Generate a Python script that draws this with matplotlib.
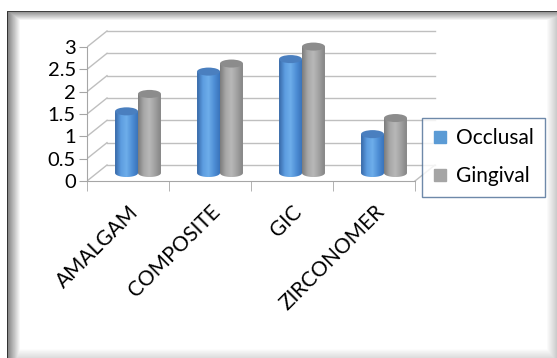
import numpy as np
import matplotlib
matplotlib.use('Agg')
import matplotlib.pyplot as plt
from matplotlib.patches import Ellipse, PathPatch
from matplotlib.path import Path
from matplotlib.lines import Line2D
from matplotlib.colors import LinearSegmentedColormap

plt.rcParams['font.family'] = ['Lato', 'DejaVu Sans']

categories = ['AMALGAM', 'COMPOSITE', 'GIC', 'ZIRCONOMER']
occlusal = [1.38, 2.27, 2.55, 0.87]
gingival = [1.77, 2.45, 2.83, 1.23]
yticks = [0, 0.5, 1, 1.5, 2, 2.5, 3]

W, H = 557, 358
fig = plt.figure(figsize=(W / 100, H / 100), dpi=100)

# frame with inner shadow
bg = fig.add_axes([0, 0, 1, 1], zorder=-10)
xx = np.arange(W)[None, :].repeat(H, 0)
yy = np.arange(H)[:, None].repeat(W, 1)
inside = (xx >= 7) & (yy >= 11)
shade = np.ones((H, W))
shade = np.minimum(shade, np.where(xx >= 7, 0.5 + 0.5 * np.clip((xx - 7) / 13, 0, 1), 1))
shade = np.minimum(shade, np.where(yy >= 11, 0.55 + 0.45 * np.clip((yy - 11) / 9, 0, 1), 1))
shade = np.minimum(shade, 1 - 0.2 * np.clip((xx - 546) / 10, 0, 1))
shade = np.minimum(shade, 1 - 0.15 * np.clip((yy - 348) / 10, 0, 1))
img = np.where(inside, shade, 1.0)
img[11:, 7] = 0.2
img[11, 7:] = 0.25
bg.imshow(img, cmap='gray', vmin=0, vmax=1, aspect='auto', interpolation='nearest')
bg.axis('off')

# plot area, scaled so 1 category = 82 px and 1 unit = 44.67 px
x0p, y0p, sx, sy = 87, 181, 82.0, 44.67
xlim = (0, 4.6)
ylim = (-0.3, 3.5)
left = x0p / W
bottom = (H - (y0p + (-ylim[0]) * sy)) / H
ax = fig.add_axes([left, bottom, (xlim[1] - xlim[0]) * sx / W, (ylim[1] - ylim[0]) * sy / H])
ax.set_xlim(*xlim)
ax.set_ylim(*ylim)

dx, dy = 20 / sx, 16 / sy
n = len(categories)
grid_c = '#bfbfbf'
for v in yticks:
    ax.plot([0, dx], [v, v + dy], color=grid_c, lw=1, zorder=1)
    ax.plot([dx, n + dx], [v + dy, v + dy], color=grid_c, lw=1, zorder=1)
ax.plot([n, n + dx], [0, dy], color=grid_c, lw=1, zorder=1)

for s in ['top', 'right']:
    ax.spines[s].set_visible(False)
ax.spines['left'].set_bounds(0, 3)
ax.spines['bottom'].set_bounds(0, n)
ax.spines['bottom'].set_position(('data', 0))
for s in ['left', 'bottom']:
    ax.spines[s].set_color('#a6a6a6')

ax.set_yticks(yticks)
ax.set_yticklabels(['0', '0.5', '1', '1.5', '2', '2.5', '3'], fontsize=14.5)
ax.tick_params(axis='y', length=6, color='#a6a6a6', pad=2)
ax.set_xticks(np.arange(n + 1), minor=True)
ax.set_xticks(np.arange(n) + 0.5)
ax.set_xticklabels(categories, rotation=45, ha='right', va='top',
                   rotation_mode='anchor', fontsize=15)
ax.tick_params(axis='x', which='major', length=0, pad=15)
ax.tick_params(axis='x', which='minor', length=7, color='#a6a6a6')

blue = LinearSegmentedColormap.from_list('b', ['#3769a8', '#5c9ce0', '#6eaeea', '#4f8fd6', '#3a74bb'])
gray = LinearSegmentedColormap.from_list('g', ['#7c7c7c', '#a8a8a8', '#b8b8b8', '#a0a0a0', '#858585'])

bw = 0.28
xc = np.arange(n) + 0.5 + dx / 2
base = dy / 2
eh = 0.18


def cylinders(xs, vals, cmap, top, label):
    bars = ax.bar(xs, vals, bw, bottom=base, color=cmap(0.5), alpha=0, label=label)
    for b in bars:
        bx, by, w, h = b.get_x(), b.get_y(), b.get_width(), b.get_height()
        t = np.linspace(np.pi, 2 * np.pi, 40)
        pts = ([(bx, by + h)]
               + list(zip(bx + w / 2 + w / 2 * np.cos(t), by + eh / 2 * np.sin(t)))
               + [(bx + w, by + h), (bx, by + h)])
        clip = PathPatch(Path(pts), transform=ax.transData, fc='none', ec='none')
        ax.add_patch(clip)
        im = ax.imshow(np.linspace(0, 1, 64)[None, :], cmap=cmap, aspect='auto',
                       extent=[bx, bx + w, by - eh / 2, by + h], zorder=3)
        im.set_clip_path(clip)
        ax.add_patch(Ellipse((bx + w / 2, by + h), w, eh, fc=top, ec='none', zorder=4))
    return bars


cylinders(xc - bw / 2, occlusal, blue, '#4a7fbf', 'Occlusal')
cylinders(xc + bw / 2, gingival, gray, '#8c8c8c', 'Gingival')

handles = [Line2D([], [], marker='s', ls='none', ms=9, color='#5b9bd5'),
           Line2D([], [], marker='s', ls='none', ms=9, color='#a5a5a5')]
leg = fig.legend(handles, ['Occlusal', 'Gingival'], loc='upper left',
                 bbox_to_anchor=(422 / W, 1 - 118 / H), borderaxespad=0,
                 frameon=True, fancybox=False, fontsize=15, handlelength=0.7,
                 handletextpad=0.45, labelspacing=0.85, borderpad=0.5)
leg.get_frame().set_edgecolor('#4a6c94')
leg.get_frame().set_linewidth(1.0)
leg.set_zorder(10)

fig.savefig('out.png', dpi=100)
